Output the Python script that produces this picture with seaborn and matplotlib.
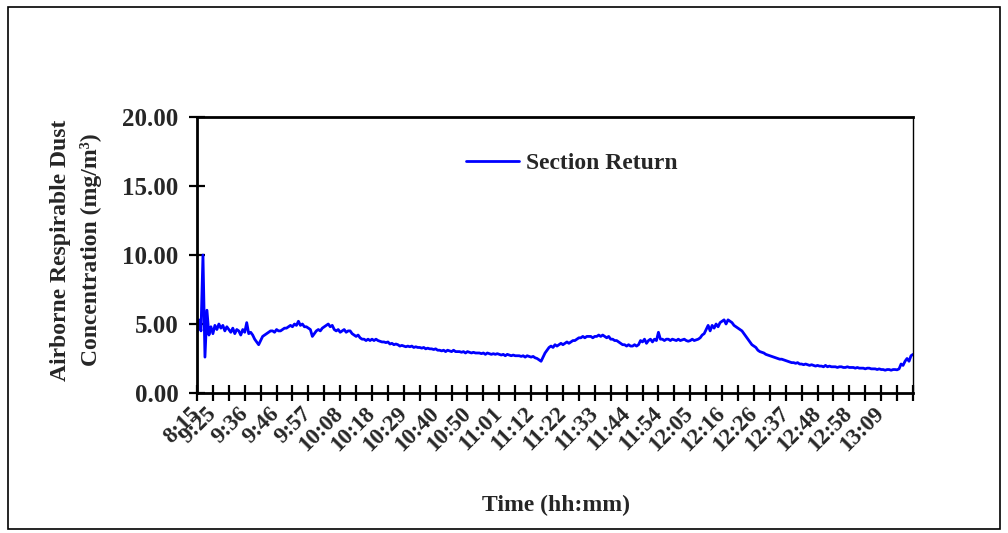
# -*- coding: utf-8 -*-

# python libraries
import numpy as np
import pandas as pd
import matplotlib.pyplot as plt
import seaborn as sns
from matplotlib.patches import Rectangle

sns.set_style("ticks")
plt.rcParams["font.family"] = ["Liberation Serif", "DejaVu Serif"]
plt.rcParams["font.weight"] = "bold"

# 粉尘浓度 (mg/m3), 按采样序号读取
dust_conc = [
    4.4, 5.3, 4.5, 10.0, 2.6, 6.0, 4.2, 4.8, 4.3,
    4.9, 4.6, 5.0, 4.7, 4.9, 4.5, 4.8, 4.6,
    4.4, 4.7, 4.3, 4.6, 4.5, 4.2, 4.6, 4.4, 5.1,
    4.3, 4.4, 4.2,
    3.9, 3.7, 3.5, 3.8,
    4.1, 4.2, 4.3,
    4.4, 4.5, 4.5, 4.4, 4.6, 4.5, 4.5, 4.6, 4.7, 4.7,
    4.8, 4.9, 4.8, 5.0, 4.9, 5.2, 4.9, 5.0, 4.8, 4.8,
    4.7, 4.6, 4.1,
    4.3, 4.5, 4.6, 4.5, 4.7,
    4.8, 4.9, 5.0, 4.8, 4.9,
    4.6, 4.5, 4.6, 4.4, 4.5, 4.6, 4.4, 4.5, 4.5, 4.3,
    4.2, 4.1, 4.2, 4.0,
    3.9, 3.9, 3.8, 3.9, 3.8, 3.9, 3.8, 3.9, 3.8,
    3.75, 3.7, 3.7, 3.65, 3.7,
    3.55, 3.6, 3.5, 3.55, 3.5,
    3.4, 3.45, 3.4, 3.35, 3.4, 3.35, 3.4, 3.3, 3.35, 3.3,
    3.3, 3.25, 3.3, 3.2, 3.25, 3.2, 3.2, 3.15, 3.2, 3.1,
    3.1, 3.05, 3.1, 3.0, 3.1, 3.05, 3.0, 3.1, 3.0, 3.0,
    3.0, 2.95, 3.0, 2.9, 3.0, 2.95, 2.9, 2.95, 2.9, 2.9,
    2.9, 2.85, 2.9, 2.8, 2.9, 2.85, 2.8, 2.85, 2.8, 2.85,
    2.8, 2.75, 2.8, 2.7, 2.8, 2.75, 2.7, 2.75, 2.7, 2.7,
    2.7, 2.65, 2.7, 2.6, 2.7, 2.65, 2.6, 2.65, 2.55, 2.5,
    2.4, 2.3, 2.6,
    2.9, 3.1, 3.3,
    3.4, 3.3, 3.5, 3.4, 3.5,
    3.6, 3.5, 3.6, 3.7, 3.6,
    3.7, 3.8, 3.8, 3.9, 4.0,
    4.0, 4.1, 4.0, 4.1, 4.1,
    4.1, 4.0, 4.1, 4.1, 4.2, 4.1, 4.2, 4.1, 4.0, 4.1,
    3.9, 3.9, 3.8, 3.8, 3.7,
    3.6, 3.5, 3.5, 3.4, 3.5, 3.4, 3.4, 3.5, 3.4, 3.5,
    3.8, 3.7, 3.9, 3.6, 3.8, 3.9, 3.7, 3.9, 3.8, 4.4,
    3.9, 3.9, 3.8, 3.9, 3.9, 3.8, 3.9, 3.85, 3.8, 3.9,
    3.8, 3.85, 3.9, 3.8, 3.75, 3.8, 3.9, 3.8, 3.85, 3.9,
    4.0, 4.2, 4.3, 4.6,
    4.9, 4.5, 4.9, 4.7, 5.0, 4.8,
    5.1, 5.2, 5.3, 5.0, 5.3, 5.2, 5.1,
    4.9, 4.8, 4.7, 4.6, 4.5,
    4.3, 4.1, 3.9, 3.7, 3.5,
    3.4, 3.3, 3.1, 3.0, 2.95,
    2.9, 2.8, 2.75, 2.7, 2.65,
    2.6, 2.55, 2.5, 2.45, 2.45,
    2.4, 2.35, 2.3, 2.25, 2.2,
    2.2, 2.15, 2.2, 2.1, 2.1, 2.05, 2.1, 2.05, 2.0, 2.05,
    2.0, 1.95, 2.0, 1.95, 1.95, 1.9, 2.0, 1.9, 1.95, 1.9,
    1.9, 1.9, 1.85, 1.9, 1.9, 1.85, 1.85, 1.9, 1.85, 1.85,
    1.85, 1.8, 1.85, 1.8, 1.8, 1.8, 1.75, 1.8, 1.8, 1.75,
    1.75, 1.75, 1.7, 1.75, 1.7, 1.7, 1.65, 1.7, 1.7, 1.65, 1.7,
    1.7, 1.68, 1.75, 2.1, 2.0, 2.3, 2.5, 2.3, 2.7, 2.8,
]

# x 轴刻度标签 (hh:mm)
time_labels = [
    "8:15", "9:25", "9:36", "9:46", "9:57", "10:08", "10:18", "10:29",
    "10:40", "10:50", "11:01", "11:12", "11:22", "11:33", "11:44", "11:54",
    "12:05", "12:16", "12:26", "12:37", "12:48", "12:58", "13:09",
]
# 带标签的刻度序号
label_ticks = [0] + list(range(1, 44, 2))
n_ticks = 45
samples_per_tick = 8

y_ticks = [0, 5, 10, 15, 20]

df = pd.DataFrame({"sample": np.arange(len(dust_conc)), "conc": dust_conc})

fig = plt.figure(figsize = (10.08, 5.33), dpi = 100, facecolor = "w")
ax = fig.add_axes([197 / 1008, (533 - 393) / 533, 716 / 1008, 276 / 533])

sns.lineplot(
    data = df, x = "sample", y = "conc",
    color = "#0000ff", linewidth = 2.0,
    label = "Section Return", ax = ax,
)

# 坐标轴
ax.set_xlim(0, n_ticks * samples_per_tick)
ax.set_ylim(0, 20)
ax.set_yticks(y_ticks)
ax.set_yticklabels([f"{v:.2f}" for v in y_ticks], fontsize = 18, fontweight = "bold")

tick_pos = [i * samples_per_tick for i in range(n_ticks + 1)]
tick_lab = [""] * len(tick_pos)
for k, lab in zip(label_ticks, time_labels):
    tick_lab[k] = lab
ax.set_xticks(tick_pos)
ax.set_xticklabels(tick_lab, fontsize = 16.5, fontweight = "bold",
                   rotation = 45, ha = "right", va = "center",
                   rotation_mode = "anchor")

ax.tick_params(axis = "both", direction = "inout", length = 11, width = 1.6, color = "black")
ax.tick_params(axis = "x", pad = 7)
ax.tick_params(axis = "y", pad = 8)

for side in ["left", "bottom", "top"]:
    ax.spines[side].set_linewidth(2)
    ax.spines[side].set_color("black")
ax.spines["right"].set_linewidth(1)
ax.spines["right"].set_color("black")

ax.set_xlabel("")
ax.set_ylabel("")

# 图例
ax.legend(
    loc = "center left",
    bbox_to_anchor = ((466 - 197) / 716, (393 - 163) / 276),
    frameon = False, borderpad = 0, borderaxespad = 0,
    handlelength = 2.25, handletextpad = 0.3,
    prop = {"size": 17, "weight": "bold"},
)

# 轴标题
fig.text((480 + 632) / 2 / 1008, 1 - 505 / 533, "Time (hh:mm)",
         ha = "center", va = "center", fontsize = 17, fontweight = "bold")
fig.text(76 / 1008, 1 - 250 / 533,
         "Airborne Respirable Dust\nConcentration (mg/m\u00b3)",
         ha = "center", va = "center", rotation = 90, multialignment = "center",
         linespacing = 1.55, fontsize = 17, fontweight = "bold")

# 外边框
fig.add_artist(Rectangle((8 / 1008, 4 / 533), 992 / 1008, 522 / 533,
                         transform = fig.transFigure, fill = False,
                         linewidth = 1.2, edgecolor = "black"))

fig.savefig("out.png", dpi = 100, facecolor = "w")
